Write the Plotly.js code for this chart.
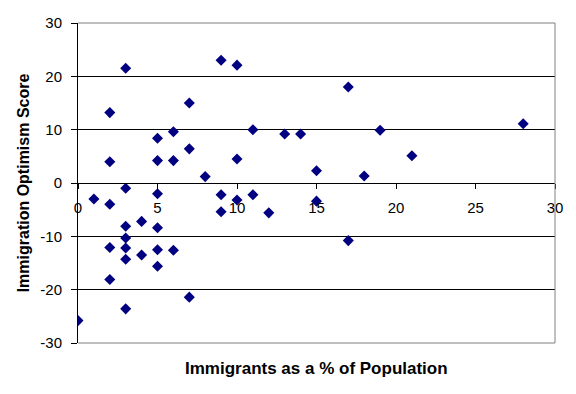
<!DOCTYPE html>
<html>
<head>
<meta charset="utf-8">
<script src="https://cdn.plot.ly/plotly-3.0.1.min.js"></script>
<style>html,body{margin:0;padding:0;background:#fff;}#chart{width:576px;height:394px;}</style>
</head>
<body>
<div id="chart"></div>
<script>
// Immigrants as a % of population
var immigrantsPct = [0, 1, 2, 2, 2, 2, 2, 3, 3, 3, 3, 3, 3, 3, 4, 4, 5, 5, 5, 5, 5, 5, 6, 6, 6, 7, 7, 7, 8, 9, 9, 9, 10, 10, 10, 11, 11, 12, 13, 14, 15, 15, 17, 17, 18, 19, 21, 28];
// Immigration optimism score
var optimismScore = [-25.8, -3, 13.2, 4, -4, -12.1, -18.1, 21.5, -1, -8.1, -10.3, -12.2, -14.3, -23.6, -7.2, -13.5, 8.4, 4.2, -2, -8.4, -12.5, -15.6, 9.6, 4.2, -12.6, 15, 6.4, -21.4, 1.2, 23, -2.2, -5.4, 22.1, 4.5, -3.2, 10, -2.2, -5.6, 9.2, 9.2, 2.3, -3.4, 18, -10.8, 1.3, 9.9, 5.1, 11.1];
var xTickVals = [0, 5, 10, 15, 20, 25, 30];
var xTickText = ["0", "5", "10", "15", "20", "25", "30"];
var yTickVals = [-30, -20, -10, 0, 10, 20, 30];
var yTickText = ["-30", "-20", "-10", "0", "10", "20", "30"];
var xTitle = "Immigrants as a % of Population";
var yTitle = "Immigration Optimism Score";

var FONT = "Arial, 'Liberation Sans', sans-serif";

var trace = {
  type: "scatter",
  mode: "markers",
  x: immigrantsPct,
  y: optimismScore,
  marker: {symbol: "diamond", size: 8.5, color: "#000080", line: {width: 0}},
  hoverinfo: "x+y"
};

var layout = {
  width: 576, height: 394,
  margin: {l: 78, r: 21, t: 23, b: 51, pad: 0},
  paper_bgcolor: "#ffffff",
  plot_bgcolor: "#ffffff",
  showlegend: false,
  font: {family: FONT, size: 15, color: "#000000"},
  xaxis: {
    range: [0, 30],
    tickvals: xTickVals, ticktext: xTickText,
    anchor: "free", position: 0.5,
    showline: true, linecolor: "#000000", linewidth: 1,
    ticks: "outside", ticklen: 5, tickcolor: "#000000", tickwidth: 1,
    ticklabelstandoff: 6,
    showgrid: false, zeroline: false,
    tickfont: {family: FONT, size: 15, color: "#000000"}
  },
  yaxis: {
    range: [-30, 30],
    tickvals: yTickVals, ticktext: yTickText,
    showline: true, linecolor: "#000000", linewidth: 1,
    ticks: "outside", ticklen: 6, tickcolor: "#000000", tickwidth: 1,
    ticklabelstandoff: 6,
    showgrid: true, gridcolor: "#000000", gridwidth: 1,
    zeroline: true, zerolinecolor: "#000000", zerolinewidth: 1,
    tickfont: {family: FONT, size: 15, color: "#000000"},
    title: {text: yTitle, font: {family: FONT, size: 16, color: "#000000", weight: "bold"}, standoff: 6}
  },
  shapes: [
    {type: "line", xref: "paper", yref: "paper", x0: 0, x1: 1, y0: 1, y1: 1, line: {color: "#808080", width: 1}, layer: "above"},
    {type: "line", xref: "paper", yref: "paper", x0: 1, x1: 1, y0: 0, y1: 1, line: {color: "#808080", width: 1}, layer: "above"},
    {type: "line", xref: "paper", yref: "paper", x0: 0, x1: 1, y0: 0, y1: 0, line: {color: "#808080", width: 1}, layer: "above"}
  ],
  annotations: [
    {text: xTitle, xref: "paper", yref: "paper", x: 0.5, y: -0.08, xanchor: "center", yanchor: "middle",
     showarrow: false, font: {family: FONT, size: 17, color: "#000000", weight: "bold"}}
  ]
};

Plotly.newPlot("chart", [trace], layout, {staticPlot: true, displayModeBar: false});
</script>
</body>
</html>
